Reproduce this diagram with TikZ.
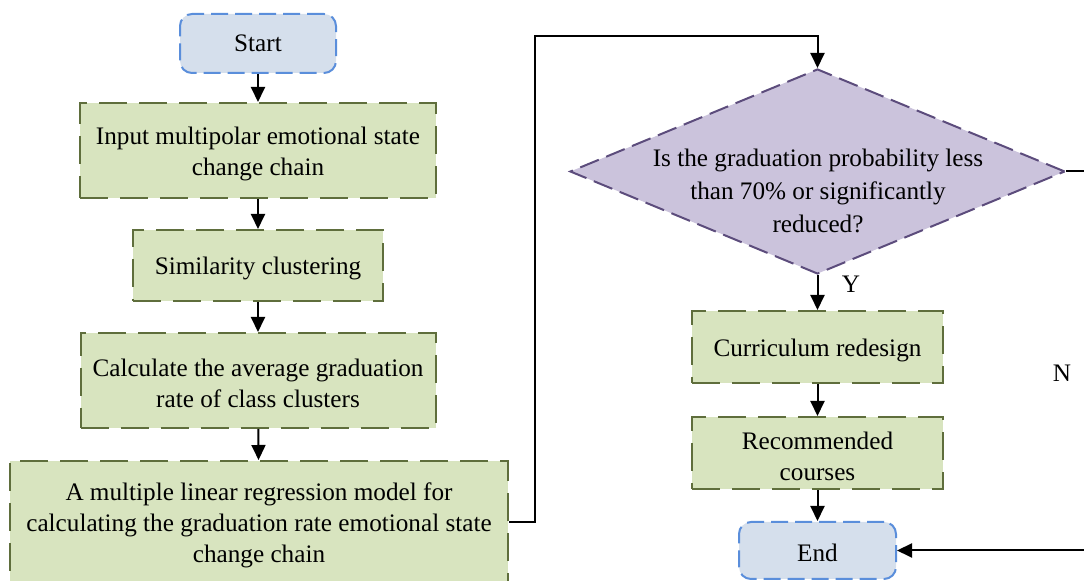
\documentclass[tikz,border=0pt]{standalone}
\usepackage{fontspec}
\setmainfont{Liberation Serif}
\usetikzlibrary{shapes.geometric,arrows.meta}
\definecolor{termfill}{HTML}{D5DFEC}
\definecolor{termline}{HTML}{5A8EDB}
\definecolor{procfill}{HTML}{D8E4BF}
\definecolor{procline}{HTML}{5F6E3C}
\definecolor{decfill}{HTML}{CBC3DC}
\definecolor{decline}{HTML}{5C4C7C}
\begin{document}
\begin{tikzpicture}[x=0.5pt,y=-0.5pt,
  every node/.style={font=\fontsize{12.6}{15.5}\selectfont, align=center, inner sep=0pt},
  txt/.style={yshift=-1.6pt},
  terminal/.style={draw=termline, fill=termfill, line width=1pt, dash pattern=on 8.5pt off 3.5pt, rounded corners=6pt},
  process/.style={draw=procline, fill=procfill, line width=1pt, dash pattern=on 14pt off 6pt},
  decision/.style={diamond, draw=decline, fill=decfill, line width=1pt, dash pattern=on 10pt off 4pt},
  flow/.style={line width=1pt, -{Triangle[length=7.5pt,width=7pt]}}
]
\useasboundingbox (0,0) rectangle (1084,581);
\clip (0,0) rectangle (1084,581);

% left column
\node[terminal, minimum width=78pt, minimum height=29.5pt,
  label={center:Start}] (start) at (258,43.5) {};
\node[process, minimum width=178pt, minimum height=47.5pt,
  label={[txt]center:{Input multipolar emotional state\\change chain}}] (input) at (258,150.5) {};
\node[process, minimum width=125pt, minimum height=35.5pt,
  label={[txt]center:Similarity clustering}] (sim) at (258,265.5) {};
\node[process, minimum width=177.5pt, minimum height=47.5pt,
  label={[txt]center:{Calculate the average graduation\\rate of class clusters}}] (avg) at (258,380.5) {};
\node[process, minimum width=249pt, minimum height=61pt,
  label={[txt]center:{A multiple linear regression model for\\calculating the graduation rate emotional state\\change chain}}] (model) at (259,522) {};

% right column
\node[decision, minimum width=247.5pt, minimum height=102.5pt] (dec) at (817.5,171.5) {};
\node[font=\fontsize{12.6}{16.5}\selectfont] (dectext) at (818,191)
  {Is the graduation probability less\\than 70\% or significantly\\reduced?};
\node[process, minimum width=125.5pt, minimum height=36pt,
  label={[txt]center:Curriculum redesign}] (cur) at (817.5,347) {};
\node[process, minimum width=125.5pt, minimum height=36pt,
  label={[txt]center:{Recommended\\courses}}] (rec) at (817.5,453) {};
\node[terminal, minimum width=78.5pt, minimum height=28.5pt,
  label={[yshift=-1pt]center:End}] (end) at (817.5,550.5) {};

\node (ylab) at (851,284) {Y};
\node (nlab) at (1062,373) {N};

% connectors
\coordinate (loopTop) at (535,36);
\coordinate (nTurn) at (1110,171.5);
\draw[flow] (start) -- (input);
\draw[flow] (input) -- (sim);
\draw[flow] (sim) -- (avg);
\draw[flow] (avg) -- (model);
\draw[flow] (model.east) -| (loopTop) -| (dec.north);
\draw[flow] (dec.south) -- (cur);
\draw[flow] (cur) -- (rec);
\draw[flow] (rec) -- (end);
\draw[flow] (dec.east) -- (nTurn) |- (end.east);
\end{tikzpicture}
\end{document}
